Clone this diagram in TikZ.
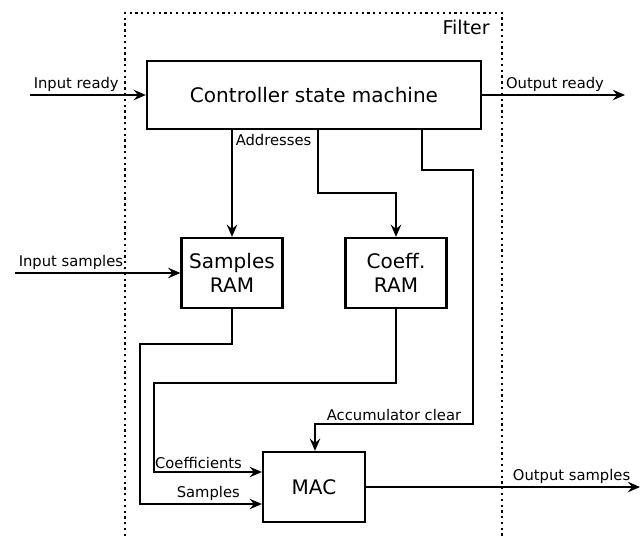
\documentclass[tikz,border=0pt]{standalone}
\usepackage{fontspec}
\setmainfont{DejaVu Sans}
\usetikzlibrary{arrows.meta}
\usetikzlibrary{positioning}

\tikzset{
  block/.style={draw, line width=1.3pt, align=center, font=\fontsize{11.4}{14}\selectfont, inner sep=0pt},
  lbl/.style={font=\fontsize{8.4}{9}\selectfont, inner sep=1.5pt},
  wire/.style={line width=1.3pt, ->, >={Stealth[length=7pt,width=6pt,inset=2.5pt]}},
}

\begin{document}
\begin{tikzpicture}[x=0.02cm,y=-0.02cm]
\useasboundingbox (0,0) rectangle (644,536);
% frame of the filter
\draw[line width=1.3pt, dotted] (125,536) -- (125,13) -- (502,13) -- (502,536);
\node[anchor=east, font=\fontsize{10.8}{12}\selectfont, inner sep=0pt] (filt) at (490,27) {Filter};
% blocks
\node[block, minimum width=6.68cm, minimum height=1.36cm] (ctrl) at (314,95) {Controller state machine};
\node[block, minimum width=2.02cm, minimum height=1.4cm] (samp) at (232,273) {Samples\\RAM};
\node[block, minimum width=2.02cm, minimum height=1.4cm] (coef) at (396,273) {Coeff.\\RAM};
\node[block, minimum width=2.04cm, minimum height=1.4cm] (mac) at (314,487) {MAC};
% signals in and out
\draw[wire] (30,95) node[lbl, above right] {Input ready} -- (ctrl.west);
\draw[wire] (ctrl.east) -- node[lbl, above, pos=0.51] {Output ready} (625,95);
\draw[wire] (15,273) node[lbl, above right] {Input samples} -- (samp.west);
\draw[wire] (mac.east) -- node[lbl, above, pos=0.75] {Output samples} (640,487);
% controller outputs
\draw[wire] (ctrl.south -| samp.north) node[lbl, below right] {Addresses} -- (samp.north);
\draw[wire] (ctrl.south -| 318,0) -- (318,193) -| (coef.north);
\draw[wire] (ctrl.south -| 422,0) -- (422,170) -- (473,170) -- (473,424)
  -- node[lbl, above] {Accumulator clear} (315,424) -- (mac.north -| 315,0);
% data into the MAC
\draw[wire] (samp.south) -- (232,344) -- (140,344) -- (140,504)
  -- node[lbl, above left, pos=0.85] {Samples} (mac.west |- 0,504);
\draw[wire] (coef.south) -- (396,383) -- (154,383) -- (154,472)
  -- node[lbl, above left, pos=0.85] {Coefficients} (mac.west |- 0,472);
\end{tikzpicture}
\end{document}
